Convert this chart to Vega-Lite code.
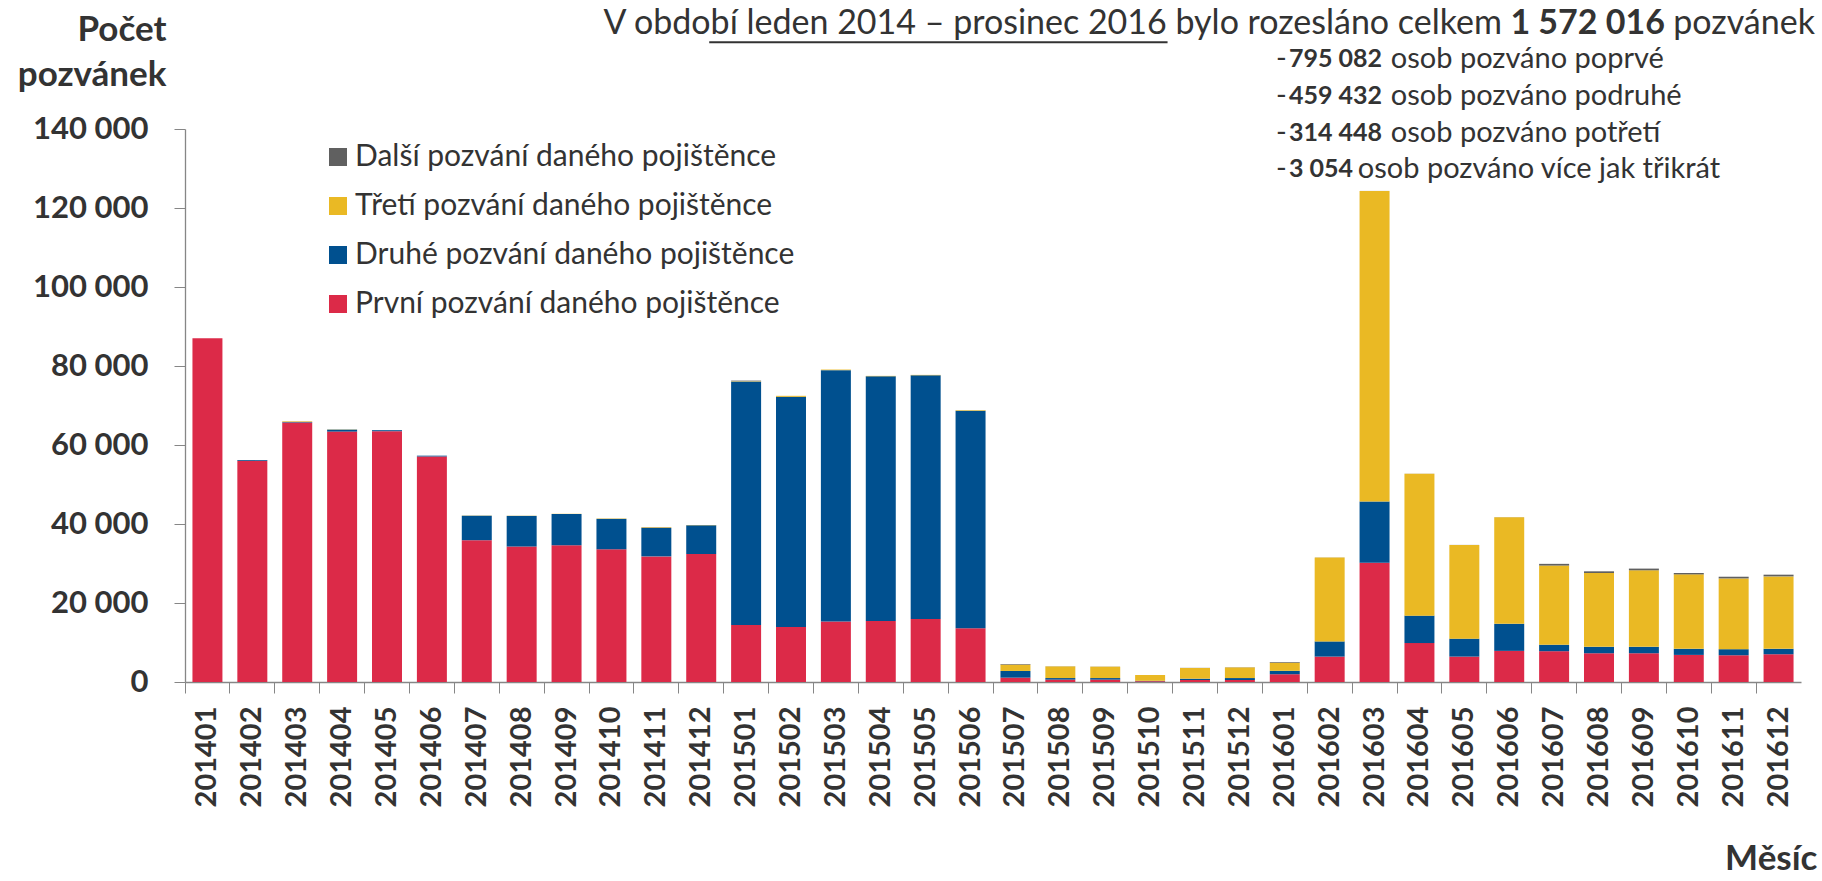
{
  "$schema": "https://vega.github.io/schema/vega-lite/v6.json",
  "width": 1616,
  "height": 553,
  "autosize": {"type": "none"},
  "padding": {"left": 185, "top": 129, "right": 21, "bottom": 199},
  "background": "white",
  "config": {
    "view": {"stroke": null},
    "font": "Lato",
    "locale": {"number": {"decimal": ",", "thousands": " ", "grouping": [3], "currency": ["", " Kč"]}}
  },
  "data": {
    "values": [
      {"mesic": "201401", "a_prvni": 87000, "b_druhe": 0, "c_treti": 0, "d_dalsi": 0},
      {"mesic": "201402", "a_prvni": 56000, "b_druhe": 200, "c_treti": 0, "d_dalsi": 0},
      {"mesic": "201403", "a_prvni": 65700, "b_druhe": 150, "c_treti": 150, "d_dalsi": 0},
      {"mesic": "201404", "a_prvni": 63400, "b_druhe": 500, "c_treti": 50, "d_dalsi": 0},
      {"mesic": "201405", "a_prvni": 63500, "b_druhe": 250, "c_treti": 0, "d_dalsi": 0},
      {"mesic": "201406", "a_prvni": 57100, "b_druhe": 200, "c_treti": 0, "d_dalsi": 0},
      {"mesic": "201407", "a_prvni": 35900, "b_druhe": 6200, "c_treti": 50, "d_dalsi": 0},
      {"mesic": "201408", "a_prvni": 34300, "b_druhe": 7750, "c_treti": 50, "d_dalsi": 0},
      {"mesic": "201409", "a_prvni": 34600, "b_druhe": 7950, "c_treti": 50, "d_dalsi": 0},
      {"mesic": "201410", "a_prvni": 33600, "b_druhe": 7700, "c_treti": 100, "d_dalsi": 0},
      {"mesic": "201411", "a_prvni": 31800, "b_druhe": 7200, "c_treti": 150, "d_dalsi": 60},
      {"mesic": "201412", "a_prvni": 32400, "b_druhe": 7300, "c_treti": 50, "d_dalsi": 0},
      {"mesic": "201501", "a_prvni": 14400, "b_druhe": 61700, "c_treti": 100, "d_dalsi": 100},
      {"mesic": "201502", "a_prvni": 13900, "b_druhe": 58300, "c_treti": 250, "d_dalsi": 0},
      {"mesic": "201503", "a_prvni": 15300, "b_druhe": 63650, "c_treti": 150, "d_dalsi": 0},
      {"mesic": "201504", "a_prvni": 15450, "b_druhe": 61950, "c_treti": 100, "d_dalsi": 0},
      {"mesic": "201505", "a_prvni": 15950, "b_druhe": 61700, "c_treti": 100, "d_dalsi": 0},
      {"mesic": "201506", "a_prvni": 13600, "b_druhe": 55100, "c_treti": 150, "d_dalsi": 0},
      {"mesic": "201507", "a_prvni": 1100, "b_druhe": 1700, "c_treti": 1600, "d_dalsi": 150},
      {"mesic": "201508", "a_prvni": 600, "b_druhe": 400, "c_treti": 2950, "d_dalsi": 30},
      {"mesic": "201509", "a_prvni": 600, "b_druhe": 400, "c_treti": 2880, "d_dalsi": 30},
      {"mesic": "201510", "a_prvni": 200, "b_druhe": 100, "c_treti": 1470, "d_dalsi": 0},
      {"mesic": "201511", "a_prvni": 500, "b_druhe": 340, "c_treti": 2700, "d_dalsi": 40},
      {"mesic": "201512", "a_prvni": 500, "b_druhe": 500, "c_treti": 2700, "d_dalsi": 40},
      {"mesic": "201601", "a_prvni": 1970, "b_druhe": 860, "c_treti": 2060, "d_dalsi": 170},
      {"mesic": "201602", "a_prvni": 6430, "b_druhe": 3850, "c_treti": 21260, "d_dalsi": 20},
      {"mesic": "201603", "a_prvni": 30170, "b_druhe": 15510, "c_treti": 78620, "d_dalsi": 20},
      {"mesic": "201604", "a_prvni": 9860, "b_druhe": 6940, "c_treti": 35900, "d_dalsi": 20},
      {"mesic": "201605", "a_prvni": 6430, "b_druhe": 4540, "c_treti": 23740, "d_dalsi": 20},
      {"mesic": "201606", "a_prvni": 7880, "b_druhe": 6860, "c_treti": 27000, "d_dalsi": 20},
      {"mesic": "201607", "a_prvni": 7800, "b_druhe": 1630, "c_treti": 20050, "d_dalsi": 430},
      {"mesic": "201608", "a_prvni": 7280, "b_druhe": 1630, "c_treti": 18690, "d_dalsi": 420},
      {"mesic": "201609", "a_prvni": 7280, "b_druhe": 1630, "c_treti": 19370, "d_dalsi": 430},
      {"mesic": "201610", "a_prvni": 6860, "b_druhe": 1540, "c_treti": 18850, "d_dalsi": 350},
      {"mesic": "201611", "a_prvni": 6770, "b_druhe": 1540, "c_treti": 17910, "d_dalsi": 430},
      {"mesic": "201612", "a_prvni": 7030, "b_druhe": 1370, "c_treti": 18340, "d_dalsi": 430}
    ]
  },
  "layer": [
    {
      "transform": [{"fold": ["a_prvni", "b_druhe", "c_treti", "d_dalsi"], "as": ["druh", "pocet"]}],
      "mark": {"type": "bar", "width": {"band": 0.668}},
      "encoding": {
        "x": {
          "field": "mesic", "type": "ordinal",
          "scale": {"paddingInner": 0, "paddingOuter": 0},
          "axis": {
            "title": "Měsíc", "labelAngle": -90, "labelFont": "Lato", "labelFontWeight": "bold",
            "labelFontSize": 29, "labelColor": "#333333", "labelPadding": 13, "labelOverlap": false,
            "tickSize": 11, "tickColor": "#868686", "domainColor": "#868686", "domainWidth": 1.3,
            "bandPosition": 0, "grid": false,
            "titleFont": "Lato", "titleFontSize": 35, "titleFontWeight": "bold", "titleColor": "#333333",
            "titleX": 1632, "titleY": 176, "titleAlign": "right", "titleBaseline": "middle", "titleAnchor": null
          }
        },
        "y": {
          "field": "pocet", "type": "quantitative", "stack": "zero",
          "scale": {"domain": [0, 140000], "nice": false},
          "axis": {
            "title": ["Počet", "pozvánek"], "values": [0, 20000, 40000, 60000, 80000, 100000, 120000, 140000],
            "format": ",d", "labelFont": "Lato", "labelFontSize": 31, "labelFontWeight": "bold",
            "labelColor": "#333333", "labelPadding": 26, "tickSize": 11, "tickColor": "#868686",
            "domainColor": "#868686", "domainWidth": 1.3, "grid": false,
            "titleAngle": 0, "titleAlign": "right", "titleBaseline": "top", "titleX": -19, "titleY": -117,
            "titleLineHeight": 45, "titleFontSize": 35, "titleFont": "Lato", "titleFontWeight": "bold", "titleColor": "#333333"
          }
        },
        "color": {
          "field": "druh", "type": "nominal",
          "scale": {"domain": ["d_dalsi", "c_treti", "b_druhe", "a_prvni"], "range": ["#606060", "#EAB924", "#00508F", "#DC2A48"]},
          "legend": {
            "orient": "none", "legendX": 138, "legendY": 13, "title": null,
            "symbolType": "square", "symbolSize": 324, "symbolStrokeWidth": 0,
            "labelFont": "Lato", "labelFontSize": 30, "labelColor": "#333333", "labelOffset": 2, "rowPadding": 19, "labelLimit": 0,
            "labelExpr": "datum.label == 'a_prvni' ? 'První pozvání daného pojištěnce' : datum.label == 'b_druhe' ? 'Druhé pozvání daného pojištěnce' : datum.label == 'c_treti' ? 'Třetí pozvání daného pojištěnce' : 'Další pozvání daného pojištěnce'"
          }
        },
        "order": {"field": "druh", "sort": "ascending"}
      }
    },
    {
      "data": {"values": [{}]},
      "mark": {"type": "text", "align": "right", "baseline": "middle", "dx": -276.6, "font": "Lato", "fontSize": 34, "color": "#333333"},
      "encoding": {
        "x": {"datum": "201612", "type": "ordinal"},
        "y": {"datum": 166540, "type": "quantitative"},
        "text": {"value": "V období leden 2014 – prosinec 2016 bylo rozesláno celkem"}
      }
    },
    {
      "data": {"values": [{}]},
      "mark": {"type": "text", "align": "right", "baseline": "middle", "dx": -113.6, "font": "Lato", "fontSize": 34, "fontWeight": "bold", "color": "#333333"},
      "encoding": {
        "x": {"datum": "201612", "type": "ordinal"},
        "y": {"datum": 166540, "type": "quantitative"},
        "text": {"value": "1 572 016"}
      }
    },
    {
      "data": {"values": [{}]},
      "mark": {"type": "text", "align": "right", "baseline": "middle", "dx": 36.4, "font": "Lato", "fontSize": 34, "color": "#333333"},
      "encoding": {
        "x": {"datum": "201612", "type": "ordinal"},
        "y": {"datum": 166540, "type": "quantitative"},
        "text": {"value": "pozvánek"}
      }
    },
    {
      "data": {"values": [{}]},
      "mark": {"type": "rule", "color": "#333333", "strokeWidth": 2, "xOffset": 8, "x2Offset": 197},
      "encoding": {
        "x": {"datum": "201412", "type": "ordinal"},
        "x2": {"datum": "201506"},
        "y": {"datum": 161960, "type": "quantitative"}
      }
    },
    {
      "data": {"values": [{}]},
      "mark": {"type": "text", "align": "left", "baseline": "middle", "dx": -8.8, "font": "Lato", "fontSize": 29, "lineHeight": 36.7, "color": "#333333"},
      "encoding": {
        "x": {"datum": "201601", "type": "ordinal"},
        "y": {"datum": 157660, "type": "quantitative"},
        "text": {"value": ["-", "-", "-", "-"]}
      }
    },
    {
      "data": {"values": [{}]},
      "mark": {"type": "text", "align": "left", "baseline": "middle", "dx": 4.2, "font": "Lato", "fontSize": 25, "fontWeight": "bold", "lineHeight": 36.7, "color": "#333333"},
      "encoding": {
        "x": {"datum": "201601", "type": "ordinal"},
        "y": {"datum": 157660, "type": "quantitative"},
        "text": {"value": ["795 082", "459 432", "314 448", "3 054"]}
      }
    },
    {
      "data": {"values": [{}]},
      "mark": {"type": "text", "align": "left", "baseline": "middle", "dx": 106, "font": "Lato", "fontSize": 29, "lineHeight": 36.7, "color": "#333333"},
      "encoding": {
        "x": {"datum": "201601", "type": "ordinal"},
        "y": {"datum": 157660, "type": "quantitative"},
        "text": {"value": ["osob pozváno poprvé", "osob pozváno podruhé", "osob pozváno potřetí"]}
      }
    },
    {
      "data": {"values": [{}]},
      "mark": {"type": "text", "align": "left", "baseline": "middle", "dx": 73, "font": "Lato", "fontSize": 29, "color": "#333333"},
      "encoding": {
        "x": {"datum": "201601", "type": "ordinal"},
        "y": {"datum": 129810, "type": "quantitative"},
        "text": {"value": "osob pozváno více jak třikrát"}
      }
    }
  ]
}
